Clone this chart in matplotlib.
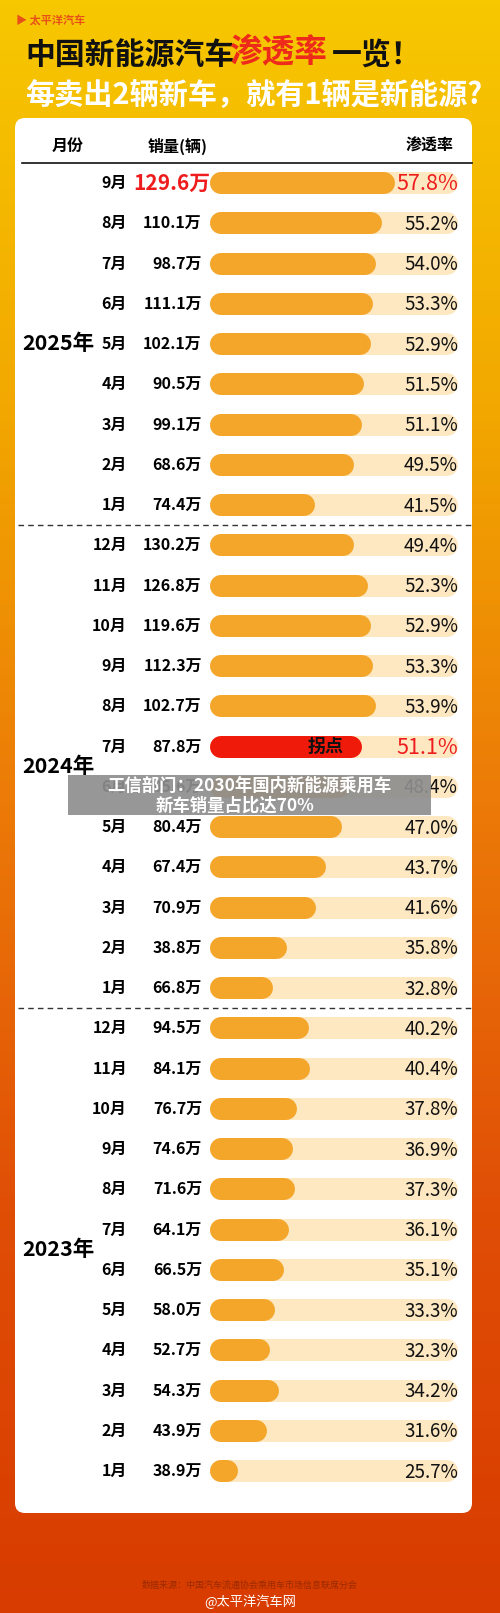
import matplotlib
matplotlib.use("Agg")
import matplotlib.pyplot as plt
import numpy as np
from matplotlib.patches import FancyBboxPatch, Rectangle
from matplotlib.colors import LinearSegmentedColormap

plt.rcParams['font.family'] = ['Noto Sans CJK SC', 'DejaVu Sans']

years = ["2025年", "2024年", "2023年"]
months_2025 = ["9月", "8月", "7月", "6月", "5月", "4月", "3月", "2月", "1月"]
sales_2025 = [129.6, 110.1, 98.7, 111.1, 102.1, 90.5, 99.1, 68.6, 74.4]
pen_2025 = [57.8, 55.2, 54.0, 53.3, 52.9, 51.5, 51.1, 49.5, 41.5]
months_2024 = ["12月", "11月", "10月", "9月", "8月", "7月", "6月", "5月", "4月", "3月", "2月", "1月"]
sales_2024 = [130.2, 126.8, 119.6, 112.3, 102.7, 87.8, 95.6, 80.4, 67.4, 70.9, 38.8, 66.8]
pen_2024 = [49.4, 52.3, 52.9, 53.3, 53.9, 51.1, 48.4, 47.0, 43.7, 41.6, 35.8, 32.8]
months_2023 = ["12月", "11月", "10月", "9月", "8月", "7月", "6月", "5月", "4月", "3月", "2月", "1月"]
sales_2023 = [94.5, 84.1, 76.7, 74.6, 71.6, 64.1, 66.5, 58.0, 52.7, 54.3, 43.9, 38.9]
pen_2023 = [40.2, 40.4, 37.8, 36.9, 37.3, 36.1, 35.1, 33.3, 32.3, 34.2, 31.6, 25.7]

months = months_2025 + months_2024 + months_2023
sales = sales_2025 + sales_2024 + sales_2023
pens = pen_2025 + pen_2024 + pen_2023
n = len(months)

W, H = 500, 1613
fig = plt.figure(figsize=(W/100, H/100), dpi=100)
bg = fig.add_axes([0, 0, 1, 1])
bg.set_xlim(0, W); bg.set_ylim(H, 0); bg.axis('off')
cmap = LinearSegmentedColormap.from_list('g', ['#F7C800', '#F2A800', '#EC7A08', '#E04E06', '#D83C00'])
grad = np.linspace(0, 1, 256).reshape(-1, 1)
bg.imshow(grad, cmap=cmap, extent=[0, W, H, 0], aspect='auto', zorder=0)

bg.add_patch(FancyBboxPatch((15, 118), 457, 1395, boxstyle="round,pad=0,rounding_size=10",
                            fc='white', ec='none', zorder=1))
bg.text(16, 20, "▶ 太平洋汽车", color='#E8501A', fontsize=8, fontweight='bold', va='center', zorder=2)
bg.text(25, 55, "中国新能源汽车", fontsize=21.5, fontweight='bold', color='#111111', va='center', zorder=2)
bg.text(229, 52, "渗透率", fontsize=23.5, fontweight='bold', color='#EE2A1A', va='center', zorder=2)
bg.text(332, 55, "一览！", fontsize=21.5, fontweight='bold', color='#111111', va='center', zorder=2)
bg.text(25, 95, "每卖出2辆新车，就有1辆是新能源?", fontsize=21, fontweight='bold', color='white', va='center', zorder=2)

bg.text(68, 146, "月份", fontsize=11.5, fontweight='bold', ha='center', va='center', zorder=2)
bg.text(178, 146, "销量(辆)", fontsize=11.5, fontweight='bold', ha='center', va='center', zorder=2)
bg.text(430, 146, "渗透率", fontsize=11.5, fontweight='bold', ha='center', va='center', zorder=2)
bg.plot([22, 472], [163, 163], color='#111111', lw=1.2, zorder=2)

y0, dy = 183, (1471 - 183) / 32
for sep in [8.5, 20.5]:
    bg.plot([18, 472], [y0 + sep*dy]*2, color='#333333', lw=1, ls=(0, (4, 3)), zorder=2)

bg.text(22, y0 + 4*dy, years[0], fontsize=15.5, fontweight='bold', va='center', zorder=2)
bg.text(22, y0 + 14.5*dy, years[1], fontsize=15.5, fontweight='bold', va='center', zorder=2)
bg.text(22, y0 + 26.5*dy, years[2], fontsize=15.5, fontweight='bold', va='center', zorder=2)

for i in range(n):
    y = y0 + i*dy
    bg.text(127, y, months[i], fontsize=11.5, fontweight='bold', ha='right', va='center', zorder=2)
    if i == 0:
        bg.text(210, y, f"{sales[i]:.1f}万", fontsize=15, fontweight='bold', color='#EE1C1C',
                ha='right', va='center', zorder=2)
    else:
        bg.text(202, y, f"{sales[i]:.1f}万", fontsize=11.5, fontweight='bold', ha='right', va='center', zorder=2)

ax = fig.add_axes([210/W, 1 - (y0 + 32.5*dy)/H, 248/W, (33*dy)/H])
ax.set_zorder(3)
ax.patch.set_alpha(0)
xmin, xmax = 20, 70.7
ax.set_xlim(xmin, xmax); ax.set_ylim(n - 0.5, -0.5); ax.axis('off')
cap = 11/248*(xmax - xmin)
lw = 22*0.72
ys = np.arange(n)
ax.hlines(ys, xmin + cap, xmax - cap, color='#FDE8C2', lw=lw, capstyle='round', zorder=1)
special = 14
cols = ['#F4A62A'] * n
cols[special] = '#F01A0A'
ax.hlines(ys, xmin + cap, np.array(pens) - cap, colors=cols, lw=lw, capstyle='round', zorder=2)
ax.text((xmin + pens[special]) / 2 + 8, special, "拐点", fontsize=13, fontweight='bold',
        ha='center', va='center', color='#111111', zorder=3)
for i in range(n):
    red = i == 0 or i == special
    ax.text(xmax, i + 0.03, f"{pens[i]:.1f}%", fontsize=15.5 if red else 13.5,
            color='#EE1C1C' if red else '#111111', ha='right', va='center', zorder=4)

top = fig.add_axes([0, 0, 1, 1])
top.set_zorder(5)
top.patch.set_alpha(0)
top.set_xlim(0, W); top.set_ylim(H, 0); top.axis('off')
top.add_patch(Rectangle((68, 775), 363, 40, fc='#8E8E8E', alpha=0.92, ec='none'))
top.text(249, 786, "工信部门：2030年国内新能源乘用车", fontsize=12.5, fontweight='bold',
         color='white', ha='center', va='center')
top.text(235, 806, "新车销量占比达70%", fontsize=12.5, fontweight='bold',
         color='white', ha='center', va='center')

bg.text(250, 1585, "数据来源：中国汽车流通协会乘用车市场信息联席分会", fontsize=6.5,
        color='#9A2A00', ha='center', va='center', zorder=2)
bg.text(250, 1602, "@太平洋汽车网", fontsize=9.5, color='white', ha='center', va='center', zorder=2)

fig.savefig("out.png", dpi=100)
